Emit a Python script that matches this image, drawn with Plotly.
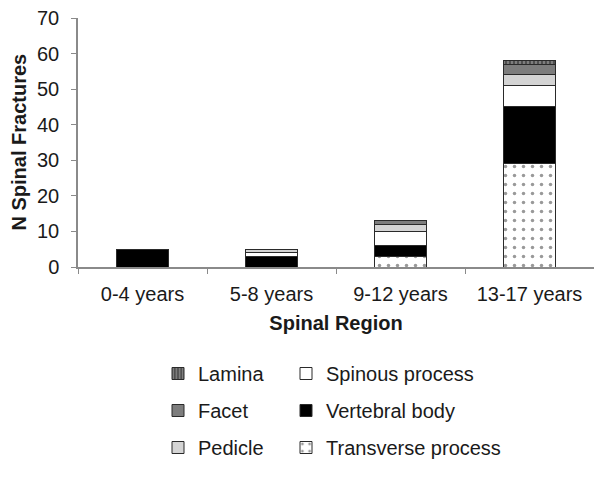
import plotly.graph_objects as go

age_groups = ["0-4 years", "5-8 years", "9-12 years", "13-17 years"]

# stacked bottom -> top
transverse_process = [0, 0, 3, 29]
vertebral_body = [5, 3, 3, 16]
spinous_process = [0, 1, 4, 6]
pedicle = [0, 1, 2, 3]
facet = [0, 0, 1, 3]
lamina = [0, 0, 0, 1]

y_ticks = [0, 10, 20, 30, 40, 50, 60, 70]

FONT = "Liberation Sans, Arial, sans-serif"
OUTLINE = "#2a2a2a"
# the page body adds an 8px margin, so the figure is 8px smaller than the window
W, H = 594, 470
L, R, T, B = 70, 8, 10, 211
PW, PH = W - L - R, H - T - B

series = [
    # name, values, colour, pattern, legend, rank
    ("Transverse process", transverse_process, "white",
     dict(shape=".", fgcolor="#333333", bgcolor="white", size=9, solidity=0.12), "legend2", 6),
    ("Vertebral body", vertebral_body, "black", None, "legend2", 5),
    ("Spinous process", spinous_process, "white", None, "legend2", 4),
    ("Pedicle", pedicle, "#d4d4d4", None, "legend", 3),
    ("Facet", facet, "#7d7d7d", None, "legend", 2),
    ("Lamina", lamina, "#505050",
     dict(shape="|", fgcolor="#e8e8e8", bgcolor="#505050", size=4, solidity=0.3), "legend", 1),
]

fig = go.Figure()
for name, vals, color, pattern, leg, rank in series:
    marker = dict(color=color, line=dict(color=OUTLINE, width=1))
    if pattern:
        marker["pattern"] = pattern
    fig.add_trace(go.Bar(
        x=age_groups, y=vals, name=name, marker=marker,
        legend=leg, legendrank=rank, legendgroup=name,
    ))

legend_common = dict(
    font=dict(family=FONT, size=20, color="#1a1a1a"),
    xanchor="left", yanchor="top",
    tracegroupgap=8, traceorder="grouped",
    bgcolor="rgba(0,0,0,0)", itemwidth=30,
)
legend_top = (H - B - 346) / PH

fig.update_layout(
    width=W, height=H,
    barmode="stack", bargap=0.59,
    paper_bgcolor="white", plot_bgcolor="white",
    margin=dict(l=L, r=R, t=T, b=B, autoexpand=False),
    font=dict(family=FONT, color="#1a1a1a"),
    showlegend=True,
    legend=dict(x=(150 - L) / PW, y=legend_top, **legend_common),
    legend2=dict(x=(278 - L) / PW, y=legend_top, **legend_common),
    xaxis=dict(
        showline=True, linecolor="#8a8a8a", linewidth=1.5,
        ticks="outside", tickson="boundaries", ticklen=5, tickcolor="#8a8a8a",
        tickfont=dict(size=20), showgrid=False, ticklabelstandoff=8,
        title=dict(text="<b>Spinal Region</b>", font=dict(size=20), standoff=12),
    ),
    yaxis=dict(
        range=[0, 70], tickvals=y_ticks,
        showline=True, linecolor="#8a8a8a", linewidth=1.5,
        ticks="outside", ticklen=5, tickcolor="#8a8a8a",
        tickfont=dict(size=20), showgrid=False, zeroline=False,
        ticklabelstandoff=8, ticklabeloverflow="allow",
    ),
    annotations=[dict(
        text="<b>N Spinal Fractures</b>", textangle=-90,
        xref="paper", yref="paper", x=(10 - L) / PW, y=0.5,
        xanchor="center", yanchor="middle", showarrow=False,
        font=dict(size=20),
    )],
)

fig.write_html("out.html")
